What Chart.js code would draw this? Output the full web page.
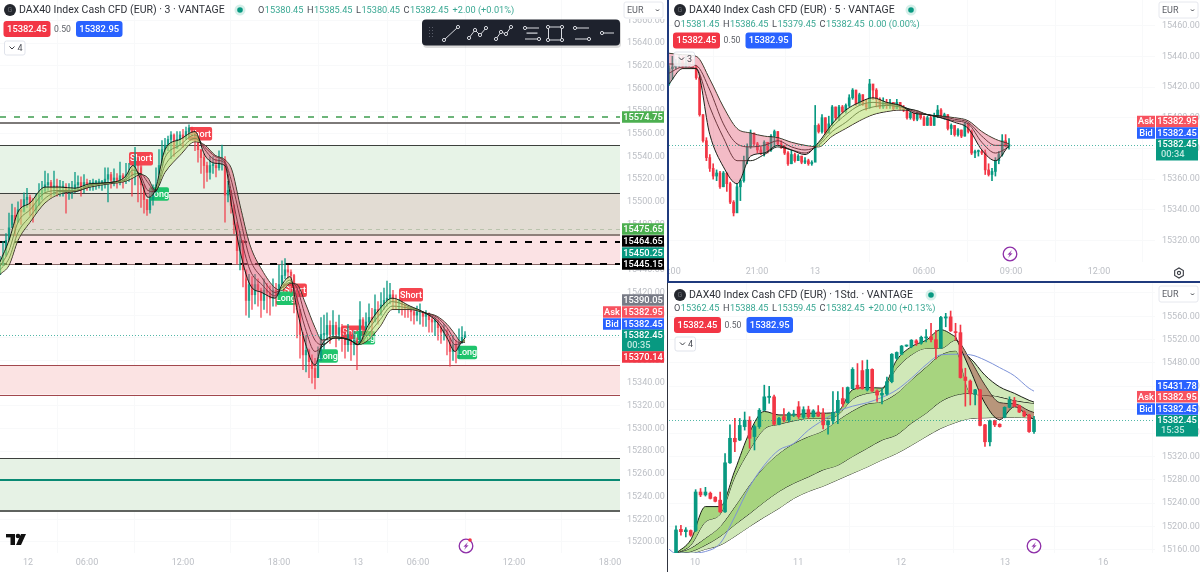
<!DOCTYPE html>
<html>
<head>
<meta charset="utf-8">
<title>DAX40 Index Cash CFD</title>
<script src="https://cdn.jsdelivr.net/npm/chart.js@4"></script>
<style>
  html, body { margin: 0; padding: 0; background: #fff; width: 1200px; height: 572px; overflow: hidden; }
  canvas { position: absolute; display: block; }
  .rule { position: absolute; }
</style>
</head>
<body>
<canvas id="m3" width="667" height="572" style="left:0;top:0"></canvas>
<canvas id="m5" width="531" height="281" style="left:669px;top:0"></canvas>
<canvas id="h1" width="531" height="289" style="left:669px;top:283px"></canvas>
<div class="rule" style="left:667px;top:0;width:2px;height:283px;background:#1f3a7d"></div>
<div class="rule" style="left:667px;top:281px;width:533px;height:2px;background:#1f3a7d"></div>
<div class="rule" style="left:667px;top:283px;width:1px;height:289px;background:#30343f"></div>
<script>
// ---------- 3 minute panel ----------
const m3FirstOpen = 15436;
const m3Closes = [
  15444,15453,15466,15477,15488, 15482,15493,15491,15502,15504,
  15497,15493,15497,15506,15510, 15515,15517,15512,15514,15512,
  15513,15513,15510,15510,15511, 15515,15517,15513,15517,15516,
  15516,15517,15517,15517,15517, 15520,15524,15519,15521,15519,
  15523,15521,15524,15526,15523, 15539,15532,15515,15502,15493,
  15502,15509,15515,15532,15546, 15550,15555,15559,15547,15555,
  15559,15556,15562,15565,15562, 15555,15546,15539,15532,15526,
  15532,15532,15530,15537,15537, 15506,15510,15497,15480,15457,
  15466,15440,15413,15427,15418, 15427,15422,15413,15422,15420,
  15415,15422,15418,15427,15435, 15440,15438,15435,15422,15405,
  15383,15365,15369,15359,15353, 15345,15360,15383,15383,15391,
  15383,15391,15383,15389,15385, 15374,15383,15374,15378,15374,
  15396,15387,15394,15398,15394, 15405,15400,15409,15413,15415,
  15418,15413,15411,15411,15409, 15406,15405,15403,15400,15403,
  15403,15399,15401,15396,15394, 15396,15389,15385,15387,15380,
  15368,15374,15369,15376,15380.45,15382.45];
const m3Highs = [
  15452,15465,15472,15490,15498, 15495,15500,15502,15508,15512,
  15506,15503,15507,15516,15518, 15527,15525,15519,15527,15520,
  15519,15518,15516,15516,15518, 15526,15523,15522,15524,15520,
  15519,15520,15519,15520,15519, 15530,15530,15526,15529,15525,
  15535,15525,15534,15534,15530, 15548,15542,15530,15512,15502,
  15510,15515,15530,15546,15554, 15556,15558,15562,15560,15562,
  15562,15564,15566,15568,15566, 15560,15552,15546,15542,15535,
  15540,15540,15538,15545,15550, 15540,15518,15510,15498,15482,
  15474,15466,15432,15436,15434, 15436,15432,15424,15432,15428,
  15426,15432,15428,15444,15448, 15450,15444,15440,15436,15425,
  15405,15385,15382,15370,15365, 15362,15372,15398,15400,15402,
  15395,15404,15394,15400,15392, 15388,15392,15385,15386,15380,
  15412,15398,15402,15410,15406, 15418,15412,15420,15424,15430,
  15428,15422,15418,15414,15415, 15410,15408,15406,15405,15408,
  15410,15402,15404,15402,15398, 15398,15392,15390,15392,15384,
  15376,15382,15378,15388,15390,15385.45];
const m3Lows = [
  15436,15444,15452,15465,15480, 15470,15482,15480,15492,15495,
  15488,15482,15490,15498,15502, 15508,15510,15504,15506,15505,
  15505,15505,15490,15502,15503, 15508,15510,15505,15508,15510,
  15510,15510,15511,15512,15510, 15512,15500,15512,15514,15512,
  15515,15512,15516,15518,15505, 15515,15500,15495,15490,15488,
  15490,15497,15508,15525,15535, 15542,15545,15538,15540,15548,
  15550,15548,15555,15558,15555, 15545,15535,15525,15512,15518,
  15520,15525,15522,15528,15528, 15482,15500,15490,15472,15445,
  15440,15425,15400,15398,15405, 15410,15408,15398,15405,15402,
  15400,15408,15408,15418,15428, 15432,15432,15420,15402,15380,
  15362,15352,15350,15345,15340, 15335,15345,15362,15370,15378,
  15375,15380,15372,15378,15368, 15362,15368,15360,15365,15352,
  15375,15375,15385,15388,15382, 15395,15392,15402,15405,15408,
  15410,15405,15405,15402,15400, 15398,15398,15395,15392,15395,
  15392,15390,15390,15385,15385, 15382,15378,15375,15378,15365,
  15355,15360,15358,15362,15375,15380.45];
const m3RibbonBars = [0,3,6,10,15,20,25,30,36.7,41.7,44.3,46.7,49.3,51.7,55,60,65,68.3,71.7,75,77.3,80,83.3,87.3,91.7,94,96.7,99,101.7,105,107.3,111.7,116.7,119.3,122.7,126.7,130.7,136.7,141.7,145.7,149,151.7,153.3,155];
const m3RibbonFast = [15447,15466,15491,15499,15513,15513,15512,15516,15517,15522,15532,15521,15504,15510,15546,15555,15562,15541,15534,15532,15495,15457,15427,15420,15415,15427,15434,15405,15376,15356,15374,15381,15378,15374,15391,15406,15415,15408,15402,15394,15380,15368,15374,15380];
const m3RibbonB = [15443,15457,15482,15493,15508,15510,15510,15515,15517,15520,15528,15524,15510,15509,15539,15550,15559,15546,15537,15534,15506,15472,15440,15427,15417,15425,15431,15415,15389,15368,15372,15380,15378,15374,15387,15401,15412,15407,15402,15396,15385,15374,15375,15378];
const m3RibbonC = [15440,15450,15473,15487,15503,15509,15509,15514,15517,15519,15524,15525,15517,15509,15532,15546,15556,15548,15540,15535,15517,15486,15450,15433,15420,15424,15429,15424,15400,15378,15374,15380,15378,15374,15383,15396,15408,15406,15402,15398,15389,15378,15376,15377];
const m3RibbonSlow = [15436,15444,15466,15482,15499,15507,15509,15513,15516,15518,15521,15524,15521,15510,15526,15541,15553,15550,15541,15537,15528,15497,15462,15440,15424,15422,15428,15427,15411,15389,15378,15380,15378,15374,15378,15390,15405,15405,15402,15399,15392,15383,15377,15376];
const m3PriceTicks = [15200,15220,15240,15260,15280,15300,15320,15340,15360,15380,15400,15420,15440,15460,15480,15500,15520,15540,15560,15580,15600,15620,15640,15660];
const m3TimeBars = [9.33,29,61,93,119.33,139.33,171.33,203.33];
const m3TimeLabels = ['12','06:00','12:00','18:00','13','06:00','12:00','18:00'];
const m3ZoneTop = [15550,15508,15471,15356,15274];
const m3ZoneBottom = [15508,15471,15445,15330,15227];
const m3LevelValues = [15574.75,15569.5,15550,15508,15475.65,15471,15464.65,15445.4,15445.15,15356,15330,15274,15254.6,15227];
const m3SignalText = ['Short','Short','Long','Short','Long','Long','Short','Long','Short','Long'];
const m3SignalBar = [47,66.7,53,98.3,95.3,109.3,117.7,121.7,137,155.7];
const m3SignalPrice = [15538,15560,15507,15422,15415,15364,15385,15380,15418,15367];
const m3TagValues = [15574.75,15475.65,15464.65,15450.25,15445.15,15390.05,15382.95,15382.45,15382.45,15370.14];

// ---------- 5 minute panel ----------
const m5FirstOpen = 15422;
const m5Closes = [
  15432,15433,15435,15437,15434,15436,15434,15433,15426,15402,
  15385,15374,15367,15362,15364,15355,15364,15357,15345,15338,
  15355,15359,15372,15381,15390,15383,15379,15377,15384,15379,
  15388,15391,15383,15381,15377,15370,15376,15372,15375,15371,
  15372,15370,15371,15395,15391,15400,15390,15396,15407,15400,
  15407,15404,15408,15413,15418,15409,15415,15409,15407,15422,
  15418,15412,15407,15410,15408,15410,15406,15410,15406,15405,
  15400,15403,15399,15403,15400,15395,15400,15395,15401,15405,
  15400,15402,15393,15395,15389,15392,15388,15396,15391,15377,
  15378,15378,15377,15366,15363,15365,15372,15376,15385,15381.45,15382.45];
const m5Highs = [
  15434,15440,15438,15441,15440,15440,15439,15438,15434,15427,
  15402,15387,15376,15370,15366,15365,15365,15364,15358,15346,
  15357,15360,15375,15383,15392,15390,15384,15381,15385,15384,
  15389,15392,15391,15385,15382,15378,15379,15377,15376,15375,
  15374,15373,15372,15408,15396,15402,15400,15401,15408,15407,
  15408,15408,15409,15415,15419,15418,15416,15415,15412,15425,
  15421,15419,15413,15413,15412,15412,15410,15412,15410,15408,
  15405,15404,15403,15404,15403,15401,15401,15401,15403,15408,
  15406,15403,15402,15396,15395,15393,15392,15397,15396,15392,
  15379,15379,15379,15379,15370,15367,15374,15378,15389,15389,15386.45];
const m5Lows = [
  15421,15425,15432,15433,15432,15433,15433,15432,15425,15401,
  15384,15372,15365,15360,15359,15354,15355,15352,15344,15336,
  15340,15346,15358,15370,15380,15382,15377,15376,15375,15377,
  15378,15381,15382,15380,15376,15369,15370,15371,15372,15370,
  15370,15369,15369,15387,15390,15390,15389,15390,15395,15398.5,
  15398,15403,15403,15407,15412,15408,15408,15408,15405,15406,
  15412,15407,15406,15406,15406,15406,15405,15406,15405,15404,
  15399,15399,15398,15398,15399,15395,15395,15395,15395,15400,
  15400,15399,15392,15389,15388,15388,15387,15388,15390,15376,
  15374,15375,15376,15363,15362,15359,15362,15370,15375,15381,15379.45];
const m5RibbonBars = [0,4,8,12,16,20,24,28,32,36,40,44,48,52,56,60,64,68,72,76,80,84,88,92,96,100];
const m5RibbonSlow = [15442,15441,15440,15425,15407,15393,15390,15388,15387,15384,15382,15381,15388,15393,15398,15402,15404,15405,15405,15402,15401,15400,15398,15391,15386,15383];
const m5RibbonB = [15435,15435,15434,15418,15396,15383,15381,15382,15385,15381,15379,15382,15391,15397,15404,15407,15408,15407,15405,15402,15401,15399,15397,15388,15382,15382];
const m5RibbonC = [15429,15433,15432,15407,15387,15372,15372,15376,15381,15379,15377,15383,15394,15402,15408,15410,15409,15408,15404,15402,15400,15398,15396,15384,15377,15381];
const m5RibbonFast = [15422,15432,15432,15389,15368,15357,15375,15377,15382,15379,15376,15384,15396,15405,15410,15413,15410,15408,15403,15402,15400,15397,15393,15379,15372,15382];
const m5PriceTicks = [15320,15340,15360,15380,15400,15420,15440,15460];
const m5TimeBars = [0.15,25.88,42.94,75,100.6,126.47];
const m5TimeLabels = ['18:00','21:00','13','06:00','09:00','12:00'];
const m5TagValues = [15382.95,15382.45,15382.45];

// ---------- 1 hour panel ----------
const h1Opens = [15154,15195,15191,15193,15193,15259,15254,15257,15250,15245,15225,15309,15351,15348,15371,15382,15354,15371,15399,15421,15422,15375,15388,15382,15391,15405,15387,15400,15388,15396,15394,15374,15381,15395,15419,15412,15436,15442,15467,15434,15469,15432,15425,15427,15448,15488,15495,15509,15508,15518,15514,15523,15525,15520,15506,15557,15559,15533,15532,15456,15449,15427,15434,15374,15345,15381,15375,15387,15404,15415,15407,15396,15391,15362.45];
const h1Highs = [15201,15202,15198,15194,15263,15265,15267,15259,15251,15259,15325,15374,15385,15385,15396,15388,15374,15402,15442,15440,15425,15387,15402,15396,15399,15414,15405,15406,15400,15407,15402,15382,15431,15431,15438,15439,15472,15479,15484,15485,15470,15434,15436,15456,15496,15499,15510,15511,15520,15520,15526,15537,15548,15536,15560,15565,15569,15548,15545,15471,15451,15435,15435,15375,15382,15382,15376,15405,15422,15421,15408,15398,15392,15388.45];
const h1Lows = [15154,15185,15182,15183,15191,15251,15252,15247,15242,15224,15224,15308,15328,15347,15365,15334,15331,15368,15398,15411,15374,15374,15379,15379,15388,15385,15385,15385,15387,15388,15367,15358,15376,15376,15405,15411,15435,15435,15435,15432,15431,15414,15410,15425,15446,15486,15494,15508,15506,15510,15512,15516,15516,15487,15505,15542,15534,15519,15454,15406,15408,15408,15372,15337,15338,15371,15370,15386,15403,15405,15395,15388,15361,15359.45];
const h1Closes = [15194,15191,15194,15185,15259,15254,15259,15248,15243,15225,15309,15351,15345,15373,15382,15351,15371,15399,15422,15423,15375,15385,15382,15394,15392,15388,15400,15388,15398,15389,15374,15381,15395,15416,15410,15438,15469,15436,15436,15469,15432,15425,15428,15448,15495,15498,15509,15510,15519,15514,15524,15524,15520,15506,15558,15559,15535,15532,15455,15450,15427,15434,15373,15345,15381,15374,15371,15404,15416,15406,15396,15389,15362.45,15382.45];
const h1RibbonBars = [0,3,6,9,12,15,18,21,24,27,30,33,36,39,42,45,48,51,54,57,60,63,66,69,72,73];
const h1RibbonA = [15154,15177,15234,15234,15296,15361,15397,15391,15391,15394,15394,15397,15434,15438,15437,15485,15508,15519,15537,15525,15468,15411,15383,15405,15388,15383];
const h1RibbonB = [15154,15168,15208,15221,15285,15331,15367,15375,15381,15385,15385,15391,15418,15428,15434,15471,15494,15505,15505,15519,15485,15442,15412,15410,15398,15395];
const h1RibbonC = [15154,15163,15180,15200,15234,15271,15302,15325,15342,15354,15364,15382,15398,15410,15414,15428,15451,15473,15494,15501,15429,15425,15421,15415,15411,15410];
const h1RibbonD = [15154,15157,15168,15183,15203,15222,15242,15260,15274,15285,15297,15305,15320,15334,15348,15357,15377,15394,15414,15425,15428,15425,15421,15415,15411,15410];
const h1RibbonE = [15154,15154,15161,15168,15183,15200,15216,15231,15248,15260,15269,15280,15291,15302,15314,15325,15339,15354,15368,15378,15385,15386,15387,15387,15386,15385];
const h1RibbonTopBars = [54,57,60,63,66,69,72,73];
const h1RibbonTop = [15494,15501,15488,15459,15439,15428,15416,15413];
const h1AverageBars = [-2,0,3,6,9,12,15,18,21,24,27,30,33,36,39,42,45,48,51,54,57,60,63,66,69,72,73];
const h1Average = [15165,15154,15154,15157,15171,15217,15268,15305,15331,15342,15365,15382,15397,15406,15412,15421,15434,15454,15477,15494,15495,15494,15485,15472,15458,15436.6,15431.78];
const h1PriceTicks = [15160,15200,15240,15280,15320,15360,15400,15440,15480,15520,15560,15600];
const h1TimeBars = [3.87,24.9,45.9,67.1,87.1];
const h1TimeLabels = ['10','11','12','13','16'];
const h1TagValues = [15431.78,15382.95,15382.45,15382.45];

const lastPrice = 15382.45;

// ---------- shared styles ----------
const FONT = 'Roboto, "Open Sans", sans-serif';
const UP = '#089981', DOWN = '#f23645', ASK = '#f7525f', BID = '#2962ff', TICK = '#bcbfc5';
const ZONE_FILLS = ['#e7f3e7', '#e2dcd3', '#fbe2e4', '#fbe3e3', '#e6f2e5'];
const LEVEL_STYLES = [
  { color: '#6db57a', width: 2, dash: [6, 8] },
  { color: '#7d7a79', width: 2 },
  { color: '#3d403d', width: 1 },
  { color: '#3d403d', width: 1 },
  { color: '#b9c3ac', width: 1, dash: [4, 4] },
  { color: '#8d7f7a', width: 2 },
  { color: '#000000', width: 2, dash: [7, 8] },
  { color: '#8a6a6a', width: 1 },
  { color: '#000000', width: 2, dash: [7, 8] },
  { color: '#a2474d', width: 1 },
  { color: '#a2474d', width: 1 },
  { color: '#3d403d', width: 1 },
  { color: '#098a73', width: 2 },
  { color: '#5f635f', width: 2 }
];

function candles(opens, highs, lows, closes, bodyWidth, wickWidth, upColor, downColor) {
  const tint = opens.map((o, i) => (closes[i] >= o ? upColor : downColor));
  return [
    { type: 'bar', order: 5, grouped: false, barPercentage: 1, categoryPercentage: 1, maxBarThickness: bodyWidth,
      minBarLength: 1, backgroundColor: tint, data: opens.map((o, i) => ({ x: i, y: [o, closes[i]] })) },
    { type: 'bar', order: 6, grouped: false, barPercentage: 1, categoryPercentage: 1, maxBarThickness: wickWidth,
      backgroundColor: tint, data: opens.map((o, i) => ({ x: i, y: [lows[i], highs[i]] })) }
  ];
}

function line(bars, values, extra) {
  return Object.assign({
    type: 'line', order: 2, pointRadius: 0, borderWidth: 1, borderColor: '#191d16',
    cubicInterpolationMode: 'monotone', fill: false,
    data: bars.map((b, i) => ({ x: b, y: values[i] }))
  }, extra);
}

function tagBox(c, x, y, w, h, fill, text, font, color, radius) {
  c.fillStyle = fill;
  c.beginPath();
  c.roundRect(x, y - h / 2, w, h, radius || 0);
  c.fill();
  c.fillStyle = color || '#fff';
  c.font = font || ('500 9.3px ' + FONT);
  c.textAlign = 'center';
  c.textBaseline = 'middle';
  c.fillText(text, x + w / 2, y + 0.5);
}

function header(c, o) {
  // symbol badge
  c.fillStyle = '#24272e';
  c.beginPath(); c.arc(o.logoX, o.y, 6, 0, 7); c.fill();
  c.fillStyle = '#6a6d74';
  c.font = '7px ' + FONT; c.textAlign = 'center'; c.textBaseline = 'middle';
  c.fillText('G', o.logoX, o.y + 0.5);
  c.fillStyle = '#2e3138';
  c.font = '10.5px ' + FONT; c.textAlign = 'left';
  c.fillText(o.title, o.titleX, o.y + 0.5);
  // market status dot
  c.fillStyle = '#d5efe9';
  c.beginPath(); c.arc(o.dotX, o.y, 5.5, 0, 7); c.fill();
  c.fillStyle = UP;
  c.beginPath(); c.arc(o.dotX, o.y, 2.8, 0, 7); c.fill();
  // open, high, low, close
  let x = o.ohlcX;
  c.font = '9.2px ' + FONT;
  o.ohlc.forEach(pair => {
    c.fillStyle = '#4a4d55';
    c.fillText(pair[0], x, o.ohlcY + 0.5);
    x += c.measureText(pair[0]).width + 0.5;
    c.fillStyle = '#3aa893';
    c.fillText(pair[1], x, o.ohlcY + 0.5);
    x += c.measureText(pair[1]).width + 3.5;
  });
  // sell, spread, buy
  tagBox(c, o.sellX, o.boxY, 47, 16, DOWN, o.price[0], '500 9.4px ' + FONT, '#fff', 3);
  c.fillStyle = '#5c5f66'; c.font = '8.6px ' + FONT; c.textAlign = 'center';
  c.fillText('0.50', o.sellX + 59, o.boxY + 0.5);
  tagBox(c, o.sellX + 72.5, o.boxY, 46.5, 16, BID, o.price[1], '500 9.4px ' + FONT, '#fff', 3);
  // collapsed indicator button
  c.fillStyle = 'rgba(255,255,255,0.85)';
  c.strokeStyle = '#e0e3eb';
  c.beginPath(); c.roundRect(o.sellX + 1, o.foldY - 7, 20.5, 14, 2); c.fill(); c.stroke();
  c.strokeStyle = '#3a3d44'; c.lineWidth = 1;
  c.beginPath();
  c.moveTo(o.sellX + 6, o.foldY - 1.5); c.lineTo(o.sellX + 8.5, o.foldY + 1); c.lineTo(o.sellX + 11, o.foldY - 1.5);
  c.stroke();
  c.fillStyle = '#4a4d55'; c.font = '9px ' + FONT; c.textAlign = 'left';
  c.fillText(o.folded, o.sellX + 14, o.foldY + 0.5);
}

function currencyButton(c, x, y) {
  c.fillStyle = '#fff'; c.strokeStyle = '#e6e8ee'; c.lineWidth = 1;
  c.beginPath(); c.roundRect(x, y, 39, 16, 2); c.fill(); c.stroke();
  c.fillStyle = '#5c5f66'; c.font = '9px ' + FONT; c.textAlign = 'left'; c.textBaseline = 'middle';
  c.fillText('EUR', x + 3, y + 8.5);
  c.strokeStyle = '#3a3d44';
  c.beginPath(); c.moveTo(x + 32, y + 7.5); c.lineTo(x + 33.5, y + 9); c.lineTo(x + 35, y + 7.5); c.stroke();
}

function bolt(c, x, y, marked) {
  c.strokeStyle = '#8e2fa8'; c.lineWidth = 1.3;
  c.beginPath(); c.arc(x, y, 6.8, 0, 7); c.stroke();
  c.fillStyle = '#8e2fa8';
  c.beginPath();
  c.moveTo(x + 2, y - 4); c.lineTo(x - 2.6, y + 0.8); c.lineTo(x - 0.2, y + 0.6);
  c.lineTo(x - 2, y + 4); c.lineTo(x + 2.6, y - 0.8); c.lineTo(x + 0.2, y - 0.6);
  c.closePath(); c.fill();
  if (marked) {
    c.fillStyle = '#f23645';
    c.beginPath(); c.arc(x + 4, y - 6, 1.8, 0, 7); c.fill();
  }
}

function signalFlags(chart, texts, bars, prices) {
  const c = chart.ctx, xs = chart.scales.x, ys = chart.scales.y;
  texts.forEach((t, i) => {
    const x = xs.getPixelForValue(bars[i]), y = ys.getPixelForValue(prices[i]);
    const w = t === 'Short' ? 24 : 20;
    tagBox(c, x - w / 2, y, w, 13.5, t === 'Short' ? '#f5454f' : '#1fc46c', t, '500 9px ' + FONT, '#fff', 2);
  });
}

function makeChart(id, cfg) {
  const plugins = [{
    id: 'panelDecor',
    beforeDatasetsDraw(chart) {
      const c = chart.ctx, a = chart.chartArea;
      c.save();
      c.beginPath(); c.rect(a.left, a.top, a.right - a.left, a.bottom - a.top); c.clip();
      if (cfg.under) cfg.under(chart);
      c.restore();
    },
    afterDatasetsDraw(chart) {
      const c = chart.ctx, a = chart.chartArea, y = chart.scales.y;
      c.save();
      const py = Math.round(y.getPixelForValue(lastPrice));
      c.strokeStyle = 'rgba(8,153,129,0.7)'; c.lineWidth = 1; c.setLineDash([1, 2]);
      c.beginPath(); c.moveTo(a.left, py + 0.5); c.lineTo(a.right, py + 0.5); c.stroke();
      c.setLineDash([]);
      cfg.over(chart, c);
      c.restore();
    }
  }];
  return new Chart(document.getElementById(id), {
    data: { datasets: cfg.datasets },
    plugins,
    options: {
      responsive: false, animation: false, devicePixelRatio: 1, events: [],
      layout: { padding: 0 },
      plugins: { legend: { display: false }, tooltip: { enabled: false }, title: { display: false } },
      scales: {
        x: {
          type: 'linear', min: cfg.xMin, max: cfg.xMax, offset: false,
          grid: { color: '#f8f9fa', drawTicks: false }, border: { display: false },
          afterBuildTicks: s => { s.ticks = cfg.xTicks.map(value => ({ value })); },
          afterFit: s => { s.height = 19; s.paddingLeft = 0; s.paddingRight = 0; },
          ticks: { autoSkip: false, maxRotation: 0, padding: 4, color: TICK, font: { family: FONT, size: 9 },
            callback: (v, i) => cfg.xLabels[i] }
        },
        y: {
          type: 'linear', position: 'right', min: cfg.yMin, max: cfg.yMax,
          grid: { color: '#f8f9fa', drawTicks: false }, border: { display: false },
          afterBuildTicks: s => { s.ticks = cfg.yTicks.map(value => ({ value })); },
          afterFit: s => { s.width = cfg.axisWidth; s.paddingTop = 0; s.paddingBottom = 0; },
          ticks: { autoSkip: false, padding: 7, color: TICK, font: { family: FONT, size: 9 },
            callback: v => v.toFixed(2) }
        }
      }
    }
  });
}

const PINK = 'rgba(226,92,118,0.42)', LEAF = 'rgba(190,225,120,0.6)';

// ---------- left: 3 minute ----------
makeChart('m3', {
  xMin: 0, xMax: 206.67, yMin: 15190.25, yMax: 15678, axisWidth: 47,
  xTicks: m3TimeBars, xLabels: m3TimeLabels, yTicks: m3PriceTicks,
  datasets: [
    line(m3RibbonBars, m3RibbonFast, { fill: { target: 3, above: LEAF, below: 'rgba(224,84,112,0.5)' } }),
    line(m3RibbonBars, m3RibbonB),
    line(m3RibbonBars, m3RibbonC),
    line(m3RibbonBars, m3RibbonSlow),
    ...candles([m3FirstOpen, ...m3Closes.slice(0, -1)], m3Highs, m3Lows, m3Closes, 1.7, 1, 'rgba(8,153,129,0.78)', 'rgba(242,54,69,0.72)')
  ],
  under(chart) {
    const c = chart.ctx, a = chart.chartArea, y = chart.scales.y;
    m3ZoneTop.forEach((top, i) => {
      const t = y.getPixelForValue(top), b = y.getPixelForValue(m3ZoneBottom[i]);
      c.fillStyle = ZONE_FILLS[i];
      c.fillRect(a.left, t, a.right - a.left, b - t);
    });
    m3LevelValues.forEach((v, i) => {
      const s = LEVEL_STYLES[i], p = Math.round(y.getPixelForValue(v));
      const py = s.width === 1 ? p + 0.5 : p;
      c.strokeStyle = s.color; c.lineWidth = s.width; c.setLineDash(s.dash || []);
      c.beginPath(); c.moveTo(a.left, py); c.lineTo(a.right, py); c.stroke();
    });
    c.setLineDash([]);
    signalFlags(chart, m3SignalText, m3SignalBar, m3SignalPrice);
  },
  over(chart, c) {
    // price scale tags, stacked so they do not overlap
    const tagColors = ['#4caf50', '#4caf50', '#000', UP, '#000', '#787b86', ASK, BID, UP, DOWN];
    const tagRows = [117, 229, 241, 253, 264, 300, 312, 324, 335, 357];
    c.fillStyle = '#fff'; c.fillRect(622, 0, 45, 19);
    m3TagValues.forEach((v, i) => {
      if (i === 8) {
        c.fillStyle = UP; c.fillRect(622, tagRows[i] - 5.5, 42, 22);
        c.fillStyle = '#fff'; c.font = '500 9.3px ' + FONT; c.textAlign = 'center'; c.textBaseline = 'middle';
        c.fillText(v.toFixed(2), 643, tagRows[i] + 0.5);
        c.fillStyle = '#bfe8df'; c.textAlign = 'left'; c.fillText('00:35', 627, tagRows[i] + 10.5);
      } else {
        tagBox(c, 622, tagRows[i], 42, 11.5, tagColors[i], v.toFixed(2));
      }
    });
    tagBox(c, 603, 312, 18, 11.5, ASK, 'Ask');
    tagBox(c, 603, 324, 18, 11.5, BID, 'Bid');
    currencyButton(c, 624, 2);
    header(c, {
      logoX: 10, y: 10, title: 'DAX40 Index Cash CFD (EUR) \u00b7 3 \u00b7 VANTAGE', titleX: 19, dotX: 240,
      ohlcX: 258, ohlcY: 10, ohlc: [['O', '15380.45'], ['H', '15385.45'], ['L', '15380.45'], ['C', '15382.45'], ['', '+2.00 (+0.01%)']],
      sellX: 3.5, boxY: 29, price: ['15382.45', '15382.95'], foldY: 48, folded: '4'
    });
    // drawing toolbar
    c.fillStyle = 'rgba(0,0,0,0.14)';
    c.beginPath(); c.roundRect(423, 21, 198, 27, 4); c.fill();
    c.fillStyle = '#1e222d';
    c.beginPath(); c.roundRect(422, 19.5, 198, 26, 4); c.fill();
    c.strokeStyle = '#d8dae0'; c.fillStyle = '#1e222d'; c.lineWidth = 1;
    const glyphs = [
      [[444, 40], [458, 27]], [[469, 38], [475, 30], [480, 35], [486, 28]],
      [[496, 39], [501, 32], [506, 34], [511, 27]]
    ];
    glyphs.forEach(g => {
      c.beginPath(); g.forEach((p, i) => (i ? c.lineTo(p[0], p[1]) : c.moveTo(p[0], p[1]))); c.stroke();
      g.forEach(p => { c.beginPath(); c.arc(p[0], p[1], 1.6, 0, 7); c.fill(); c.stroke(); });
    });
    c.beginPath(); c.rect(548.5, 27, 13, 13); c.stroke();
    [[525, 28], [525, 39], [575, 28], [575, 39], [600, 33]].forEach(p => {
      c.beginPath(); c.moveTo(p[0], p[1]); c.lineTo(p[0] + 14, p[1]); c.stroke();
    });
    c.strokeRect(527, 33, 10, 0.2);
    [[525, 28], [539, 39], [575, 28], [589, 39], [602, 33], [548, 27], [562, 27], [548, 40], [562, 40]].forEach(p => {
      c.beginPath(); c.arc(p[0], p[1], 1.6, 0, 7); c.fill(); c.stroke();
    });
    c.fillStyle = '#5a5e6a';
    [27, 30, 33, 36].forEach(r => { c.fillRect(429, r, 1, 1); c.fillRect(432, r, 1, 1); });
    // TradingView mark
    c.fillStyle = '#111';
    c.fillRect(6, 534, 9, 3.4); c.fillRect(10.5, 534, 4.5, 11);
    c.beginPath(); c.arc(18, 536, 2.3, 0, 7); c.fill();
    c.beginPath(); c.moveTo(21, 534); c.lineTo(26, 534); c.lineTo(21, 545); c.lineTo(16, 545); c.closePath(); c.fill();
    bolt(c, 466, 546, true);
  }
});

// ---------- top right: 5 minute ----------
makeChart('m5', {
  xMin: 0, xMax: 142.94, yMin: 15306, yMax: 15476.7, axisWidth: 45,
  xTicks: m5TimeBars, xLabels: m5TimeLabels, yTicks: m5PriceTicks,
  datasets: [
    line(m5RibbonBars, m5RibbonFast, { fill: { target: 3, above: LEAF, below: PINK } }),
    line(m5RibbonBars, m5RibbonC),
    line(m5RibbonBars, m5RibbonB),
    line(m5RibbonBars, m5RibbonSlow),
    ...candles([m5FirstOpen, ...m5Closes.slice(0, -1)], m5Highs, m5Lows, m5Closes, 2, 1, UP, DOWN)
  ],
  over(chart, c) {
    const stacked = [121.5, 133];
    c.fillStyle = '#fff'; c.fillRect(487, 0, 44, 19);
    tagBox(c, 487, stacked[0], 42, 11.5, ASK, m5TagValues[0].toFixed(2));
    tagBox(c, 487, stacked[1], 42, 11.5, BID, m5TagValues[1].toFixed(2));
    tagBox(c, 468, stacked[0], 18, 11.5, ASK, 'Ask');
    tagBox(c, 468, stacked[1], 18, 11.5, BID, 'Bid');
    c.fillStyle = UP; c.fillRect(487, 139, 42, 21.5);
    c.fillStyle = '#fff'; c.font = '500 9.3px ' + FONT; c.textAlign = 'center'; c.textBaseline = 'middle';
    c.fillText(m5TagValues[2].toFixed(2), 508, 145);
    c.fillStyle = '#bfe8df'; c.textAlign = 'left'; c.fillText('00:34', 492, 155);
    currencyButton(c, 490, 2);
    header(c, {
      logoX: 11, y: 10, title: 'DAX40 Index Cash CFD (EUR) \u00b7 5 \u00b7 VANTAGE', titleX: 20, dotX: 242,
      ohlcX: 5, ohlcY: 24, ohlc: [['O', '15381.45'], ['H', '15386.45'], ['L', '15379.45'], ['C', '15382.45'], ['', '0.00 (0.00%)']],
      sellX: 4, boxY: 40.5, price: ['15382.45', '15382.95'], foldY: 59, folded: '3'
    });
    bolt(c, 341, 254, false);
    // settings gear
    c.strokeStyle = '#3a3d44'; c.lineWidth = 1.1;
    c.beginPath();
    for (let k = 0; k < 6; k++) {
      const t = Math.PI / 6 + k * Math.PI / 3, px = 510 + 5 * Math.cos(t), py = 273 + 5 * Math.sin(t);
      k ? c.lineTo(px, py) : c.moveTo(px, py);
    }
    c.closePath(); c.stroke();
    c.beginPath(); c.arc(510, 273, 1.6, 0, 7); c.stroke();
  }
});

// ---------- bottom right: 1 hour ----------
const BAND_MID = '#a7d47f', BAND_LIGHT = '#d0e8b8', BAND_TURN = 'rgba(170,100,85,0.62)';
// the fastest average is split where it drops below the second one, so each run keeps one colour
const h1TurnAt = 19;
makeChart('h1', {
  xMin: -1.43, xMax: 97.67, yMin: 15154.5, yMax: 15617, axisWidth: 45,
  xTicks: h1TimeBars, xLabels: h1TimeLabels, yTicks: h1PriceTicks,
  datasets: [
    line(h1RibbonBars.slice(0, h1TurnAt + 1), h1RibbonA.slice(0, h1TurnAt + 1), { order: 10, fill: { target: 1, above: BAND_MID, below: BAND_MID } }),
    line(h1RibbonBars, h1RibbonB, { order: 11, fill: { target: 2, above: BAND_LIGHT, below: BAND_LIGHT } }),
    line(h1RibbonBars, h1RibbonC, { order: 12, fill: { target: 3, above: BAND_MID, below: BAND_MID } }),
    line(h1RibbonBars, h1RibbonD, { order: 13, fill: { target: 4, above: BAND_LIGHT, below: BAND_LIGHT } }),
    line(h1RibbonBars, h1RibbonE, { order: 14, borderColor: '#353b2c' }),
    line(h1RibbonTopBars, h1RibbonTop, { order: 15, fill: { target: 3, above: BAND_LIGHT, below: BAND_LIGHT } }),
    line(h1AverageBars, h1Average, { order: 9, borderColor: '#7d92d8', borderWidth: 1 }),
    line(h1RibbonBars.slice(h1TurnAt), h1RibbonA.slice(h1TurnAt), { order: 8, fill: { target: 1, above: BAND_TURN, below: BAND_TURN } }),
    ...candles(h1Opens, h1Highs, h1Lows, h1Closes, 3, 1, UP, DOWN)
  ],
  over(chart, c) {
    const stacked = [102.7, 113.7, 126];
    c.fillStyle = '#fff'; c.fillRect(487, 0, 44, 20);
    tagBox(c, 487, stacked[0], 42, 11.5, BID, h1TagValues[0].toFixed(2));
    tagBox(c, 487, stacked[1], 42, 11.5, ASK, h1TagValues[1].toFixed(2));
    tagBox(c, 487, stacked[2], 42, 11.5, BID, h1TagValues[2].toFixed(2));
    tagBox(c, 468, stacked[1], 18, 11.5, ASK, 'Ask');
    tagBox(c, 468, stacked[2], 18, 11.5, BID, 'Bid');
    c.fillStyle = UP; c.fillRect(487, 132, 42, 21.5);
    c.fillStyle = '#fff'; c.font = '500 9.3px ' + FONT; c.textAlign = 'center'; c.textBaseline = 'middle';
    c.fillText(h1TagValues[3].toFixed(2), 508, 137.5);
    c.fillStyle = '#bfe8df'; c.textAlign = 'left'; c.fillText('15:35', 492, 147.5);
    currencyButton(c, 490, 3);
    header(c, {
      logoX: 11, y: 12, title: 'DAX40 Index Cash CFD (EUR) \u00b7 1Std. \u00b7 VANTAGE', titleX: 20, dotX: 262,
      ohlcX: 5, ohlcY: 25, ohlc: [['O', '15362.45'], ['H', '15388.45'], ['L', '15359.45'], ['C', '15382.45'], ['', '+20.00 (+0.13%)']],
      sellX: 5, boxY: 42, price: ['15382.45', '15382.95'], foldY: 61, folded: '4'
    });
    bolt(c, 365, 263, false);
  }
});
</script>
</body>
</html>
